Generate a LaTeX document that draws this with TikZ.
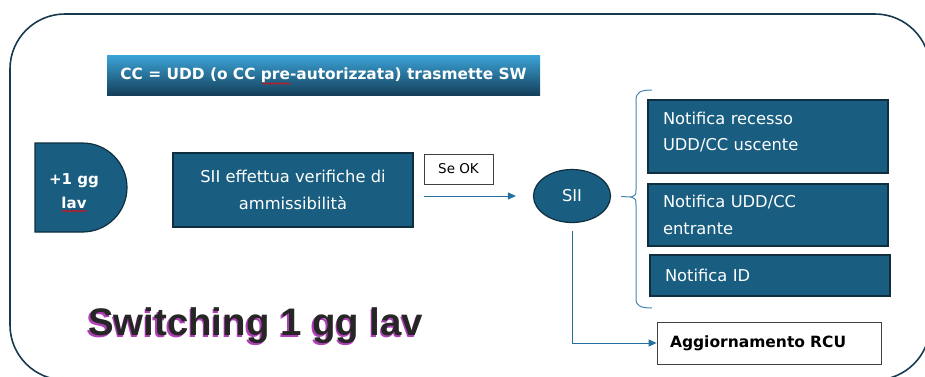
\documentclass[tikz,border=0pt]{standalone}
\usepackage{fontspec}
\setmainfont{DejaVu Sans}
\newfontfamily\titlefont{Liberation Sans}
\usetikzlibrary{positioning,arrows.meta,shapes.geometric,decorations.pathmorphing}
\definecolor{tealbox}{HTML}{195E80}
\definecolor{boxline}{HTML}{0F2F40}
\definecolor{flowline}{HTML}{2670A0}
\definecolor{frameline}{HTML}{173A4E}
\definecolor{hdrtop}{HTML}{3CA4D8}
\definecolor{hdrbot}{HTML}{143F5A}
\definecolor{shadowpink}{HTML}{B040B8}

\begin{document}
\begin{tikzpicture}[
  x=1pt, y=-1pt,
  font=\fontsize{16.3}{26.5}\selectfont,
  box/.style={draw=boxline, line width=1.2pt, fill=tealbox, text=white},
  notif/.style={box, minimum width=240pt, inner xsep=15pt, text width=210pt, align=left},
  plain/.style={draw=black!75, line width=0.8pt, fill=white, text=black},
  hdr/.style={draw=none, top color=hdrtop, bottom color=hdrbot, text=white, font=\fontsize{15.4}{20}\selectfont\bfseries,
    minimum width=433pt, minimum height=40pt},
  ttl/.style={font=\titlefont\fontsize{38.4}{40}\selectfont\bfseries, inner sep=0pt, anchor=base west},
  arr/.style={-{Triangle[length=8pt, width=7pt]}, flowline, line width=1pt},
  brc/.style={flowline!85, line width=1pt},
  wavy/.style={red, line width=0.5pt, decorate, decoration={snake, amplitude=0.8pt, segment length=2.5pt}}]
  \useasboundingbox (0,0) rectangle (925,376);
  % outer frame, cut by the page edge
  \begin{scope}
    \clip (0,0) rectangle (925,376);
    \draw[frameline, line width=1.6pt, rounded corners=55pt] (10,14) rectangle (930,380);
  \end{scope}
  \node[hdr] (hdr) at (323.5,75) {CC = UDD (o CC pre-autorizzata) trasmette SW};
  % delay shape
  \draw[box] (35,143) -- (82.5,143) arc[start angle=90, end angle=-90, radius=44.5pt] -- (35,232) -- cycle;
  \node[text=white, align=center, font=\fontsize{15}{24}\selectfont\bfseries] (wait) at (74,191) {+1 gg\\lav};
  \node[box, minimum width=240pt, minimum height=74pt, align=center] (chk) at (293,190) {SII effettua verifiche di\\ammissibilità};
  \node[plain, minimum width=69pt, minimum height=30pt, font=\fontsize{13.5}{15}\selectfont] (ok) at (458.5,169) {Se OK};
  \node[box, ellipse, minimum width=77pt, minimum height=53pt, inner sep=0pt] (sii) at (572,196) {SII};
  \node[notif, minimum height=73pt] (n1) at (768,136.5) {Notifica recesso\\UDD/CC uscente\\[-16pt]~};
  \node[notif, minimum height=62pt] (n2) at (768,215) {Notifica UDD/CC\\entrante};
  \node[notif, minimum height=41pt] (n3) at (770,275.5) {Notifica ID};
  \node[plain, minimum width=224pt, minimum height=42pt, inner xsep=13pt, text width=198pt, align=left,
    font=\fontsize{15.5}{20}\selectfont\bfseries] (rcu) at (769,343) {Aggiornamento RCU};
  % spell-check marks
  \draw[wavy] (262,83.5) -- (291,83.5);
  \draw[wavy] (62,211) -- (87,211);
  % brace towards the notifications
  \coordinate (tip) at (631,197);
  \draw[brc] (652,90) .. controls (641,90) and (636,92) .. (636,100) -- (636,189)
    .. controls (636,195) .. (tip) .. controls (636,199) .. (636,205) -- (636,299)
    .. controls (636,306) and (641,308) .. (652,308);
  \draw[brc, shorten <=10pt] (sii.east) -- (tip);
  \draw[arr, shorten <=10pt, shorten >=17pt] (chk.east |- sii.west) -- (sii.west);
  \draw[arr, shorten <=8pt] (sii.south) |- (rcu.west);
  % title with shadow
  \node[ttl, text=shadowpink] (ttlshadow) at (86.5,337) {Switching 1 gg lav};
  \node[ttl, text=black!85] (ttl) at (88,335) {Switching 1 gg lav};
\end{tikzpicture}
\end{document}
